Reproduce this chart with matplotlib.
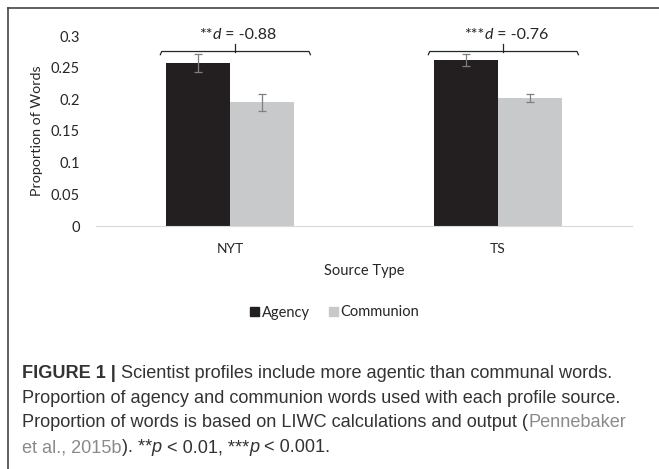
import numpy as np
import matplotlib
matplotlib.use('Agg')
import matplotlib.pyplot as plt
from matplotlib.patches import Rectangle
from matplotlib.lines import Line2D

# data
sources = ['NYT', 'TS']
agency = [0.257, 0.262]
agency_err = [0.0145, 0.0100]
communion = [0.195, 0.202]
communion_err = [0.0130, 0.0065]
effects = ['**', '***']
d_values = ['-0.88', '-0.76']

chart_font = ['Lato', 'DejaVu Sans']
cap_font = ['Liberation Sans', 'DejaVu Sans']

W, H = 659, 469
fig = plt.figure(figsize=(W / 100, H / 100), dpi=100)
ax = fig.add_axes([96 / W, 1 - 226 / H, 536 / W, 190 / H])

x = np.arange(len(sources))
w = 0.24
ax.bar(x - w / 2, agency, w, color='#231f20', label='Agency')
ax.bar(x + w / 2, communion, w, color='#c8c9cb', label='Communion')
ax.errorbar(x - w / 2, agency, yerr=agency_err, fmt='none', ecolor='#7f7f7f', elinewidth=0.9, capsize=3, capthick=0.9)
ax.errorbar(x + w / 2, communion, yerr=communion_err, fmt='none', ecolor='#7f7f7f', elinewidth=0.9, capsize=3, capthick=0.9)

ax.set_xlim(-0.5, 1.5)
ax.set_ylim(0, 0.3)
ax.set_yticks([0, 0.05, 0.1, 0.15, 0.2, 0.25, 0.3])
ax.set_yticklabels(['0', '0.05', '0.1', '0.15', '0.2', '0.25', '0.3'])
ax.set_xticks(x)
ax.set_xticklabels(sources)
for s in ['top', 'right', 'left']:
    ax.spines[s].set_visible(False)
ax.spines['bottom'].set_color('#d9d9d9')
ax.tick_params(axis='y', length=0, labelsize=10.5, colors='#262626', pad=11.5)
ax.tick_params(axis='x', length=0, labelsize=10, colors='#262626', pad=12)
for t in ax.get_xticklabels() + ax.get_yticklabels():
    t.set_family(chart_font)
ax.set_xlabel('Source Type', fontsize=10.5, family=chart_font, color='#262626')
ax.xaxis.set_label_coords(0.5, -(264 - 226) / 190)
ax.set_ylabel('Proportion of Words', fontsize=10.3, family=chart_font, color='#262626', labelpad=6)

# brackets
for i in range(len(sources)):
    c = x[i] + 0.02
    xs = [c - 0.28, c - 0.275, c + 0.275, c + 0.28]
    ax.plot([xs[0], xs[1], xs[2], xs[3]], [0.2705, 0.2755, 0.2755, 0.2705], color='#262626', lw=0.9, clip_on=False)
    ax.plot([c, c], [0.2755, 0.2880], color='#262626', lw=0.9, clip_on=False)

fig.canvas.draw()
renderer = fig.canvas.get_renderer()


def runs_text(runs, px, py, ha='left', size=10, family=chart_font, color='#262626'):
    # runs: list of (text, weight, style, color)
    items = []
    total = 0
    for r in runs:
        txt, weight, style, col = r
        t = fig.text(0, 0, txt, fontsize=size, family=family, weight=weight, style=style,
                     color=col or color, va='baseline', ha='left')
        wd = t.get_window_extent(renderer).width
        items.append((t, wd))
        total += wd
    start = px - total / 2 if ha == 'center' else px
    for t, wd in items:
        t.set_position((start / W, 1 - py / H))
        start += wd


# effect labels
for i in range(len(sources)):
    xp = ax.transData.transform((x[i] + 0.03, 0))[0]
    runs_text([(effects[i], 'normal', 'normal', None), ('d', 'normal', 'italic', None),
               (' = ' + d_values[i], 'normal', 'normal', None)], xp, 39, ha='center', size=11.5)

# legend
leg_y = 1 - 312.5 / H
handles = [Rectangle((0, 0), 1, 1, color='#231f20'), Rectangle((0, 0), 1, 1, color='#c8c9cb')]
leg = fig.legend(handles, ['Agency', 'Communion'], loc='center', bbox_to_anchor=(334.5 / W, leg_y), ncol=2,
                 frameon=False, prop={'family': chart_font, 'size': 10.5}, handlelength=0.62, handleheight=0.62,
                 handletextpad=0.2, columnspacing=1.3, labelcolor='#262626')

# frame lines (top and left)
fig.add_artist(Line2D([8 / W, 8 / W], [0, 1 - 8.5 / H], color='#444444', lw=1.2))
fig.add_artist(Line2D([8 / W, 1], [1 - 8.5 / H, 1 - 8.5 / H], color='#444444', lw=1.2))

# caption
dark = '#333333'
gray = '#8a8a8a'
cs = 13.1
runs_text([('FIGURE 1 | ', 'bold', 'normal', dark),
           ('Scientist profiles include more agentic than communal words.', 'normal', 'normal', dark)],
          22, 378, size=cs, family=cap_font)
runs_text([('Proportion of agency and communion words used with each profile source.', 'normal', 'normal', dark)],
          22, 403, size=cs, family=cap_font)
runs_text([('Proportion of words is based on LIWC calculations and output (', 'normal', 'normal', dark),
           ('Pennebaker', 'normal', 'normal', gray)],
          22, 427, size=cs, family=cap_font)
runs_text([('et al., 2015b', 'normal', 'normal', gray), ('). **', 'normal', 'normal', dark),
           ('p', 'normal', 'italic', dark), (' < 0.01, ***', 'normal', 'normal', dark),
           ('p', 'normal', 'italic', dark), (' < 0.001.', 'normal', 'normal', dark)],
          22, 452, size=cs, family=cap_font)

fig.savefig('out.png', dpi=100)
